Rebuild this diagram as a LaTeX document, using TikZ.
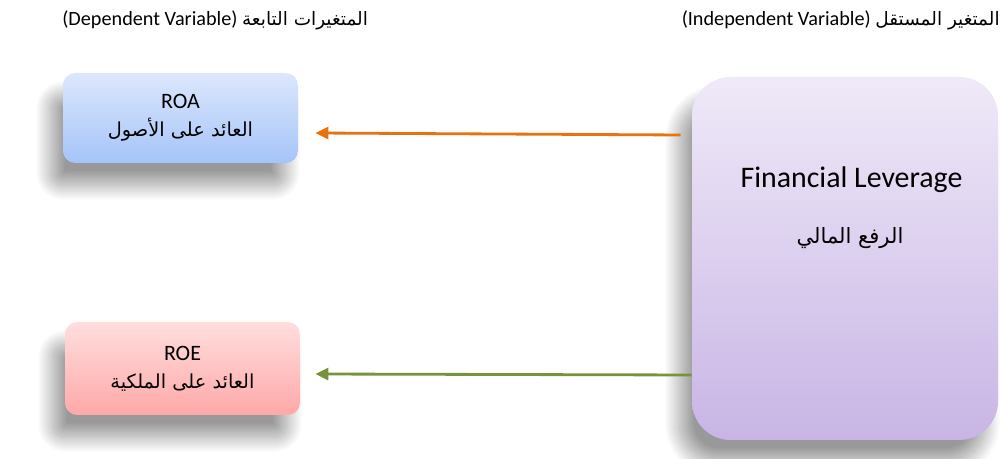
\documentclass[tikz,border=0pt]{standalone}
\usepackage{fontspec}
\setmainfont{Carlito}
\newfontfamily\arabicfont[Script=Arabic]{DejaVu Sans}
\TeXXeTstate=1
\usetikzlibrary{arrows.meta,shadows.blur}

\definecolor{roatop}{HTML}{DCE7FC}
\definecolor{roabot}{HTML}{A5C4F9}
\definecolor{roetop}{HTML}{FFDEDE}
\definecolor{roebot}{HTML}{FFA8A8}
\definecolor{levtop}{HTML}{EFE9F8}
\definecolor{levbot}{HTML}{C8B5E5}
\definecolor{arrorange}{HTML}{E8720F}
\definecolor{arrgreen}{HTML}{77933C}

\newcommand{\ar}[1]{{\arabicfont\beginR #1\endR}}

\begin{document}
\begin{tikzpicture}[
    varbox/.style={rounded corners=7pt, inner sep=0pt,
        blur shadow={shadow xshift=-0.25cm, shadow yshift=-0.45cm,
            shadow blur radius=0.3cm, shadow blur steps=25, shadow opacity=40}},
    boxtext/.style={align=center, font=\fontsize{12.5}{16}\selectfont},
    headtext/.style={inner sep=0pt, font=\fontsize{11.5}{13}\selectfont},
    effect/.style={line width=1.6pt, -{Triangle[length=0.26cm, width=0.24cm]}},
]
\useasboundingbox (0,0) rectangle (20,9.18);

% headings
\node[headtext, anchor=west] (dephead) at (1.24,8.78)
    {(Dependent Variable) {\fontsize{10.5}{13}\selectfont\ar{المتغيرات التابعة}}};
\node[headtext, anchor=east] (indhead) at (20,8.78)
    {(Independent Variable) {\fontsize{10.5}{13}\selectfont\ar{المتغير المستقل}}};

% dependent variables
\node[varbox, top color=roatop, bottom color=roabot,
      minimum width=4.7cm, minimum height=1.8cm] (roa) at (3.61,6.82) {};
\node[boxtext] (roatxt) at (roa) {ROA\\{\fontsize{11}{16}\selectfont\ar{العائد على الأصول}}};

\node[varbox, top color=roetop, bottom color=roebot,
      minimum width=4.7cm, minimum height=1.86cm] (roe) at (3.65,1.81) {};
\node[boxtext] (roetxt) at (roe) {ROE\\{\fontsize{11}{16}\selectfont\ar{العائد على الملكية}}};

% independent variable
\node[varbox, rounded corners=22pt, top color=levtop, bottom color=levbot,
      minimum width=6.12cm, minimum height=7.26cm] (lev) at (16.9,4.01) {};
\node[font=\fontsize{17}{20}\selectfont] (levtxt) at (17.03,5.58) {Financial Leverage};
\node[font=\fontsize{12}{16}\selectfont] (levar) at (17.0,4.42) {\ar{الرفع المالي}};

% effects
\draw[effect, arrorange] ([xshift=-0.22cm, yshift=2.47cm]lev.west)
    -- ([xshift=0.34cm, yshift=-0.3cm]roa.east);
\draw[effect, arrgreen] ([yshift=-2.33cm]lev.west)
    -- ([xshift=0.3cm, yshift=-0.11cm]roe.east);
\end{tikzpicture}
\end{document}
